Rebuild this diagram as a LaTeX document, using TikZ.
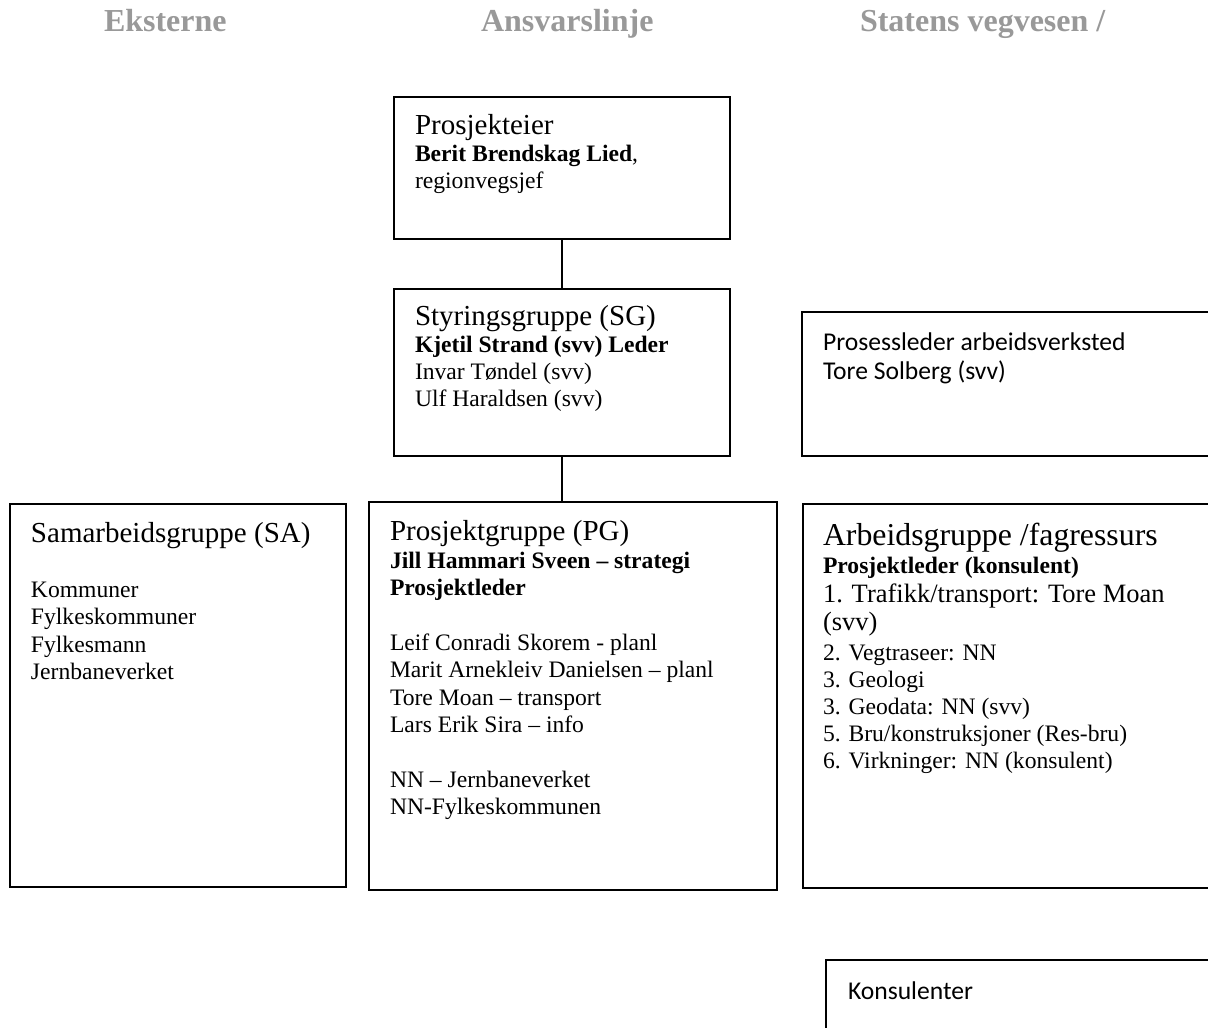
\documentclass[tikz,border=0pt]{standalone}
\usepackage{fontspec}
\setmainfont{Liberation Serif}
\newfontfamily\sansf{Carlito}
\definecolor{hdr}{RGB}{153,153,153}
\begin{document}
\begin{tikzpicture}[x=0.5pt,y=-0.5pt,
  box/.style={draw, line width=0.85pt, inner sep=0, rectangle},
  conn/.style={draw, line width=0.85pt},
  txt/.style={anchor=base west, inner sep=0, outer sep=0},
  hd/.style={txt, text=hdr, font=\fontsize{16}{19}\selectfont\bfseries},
  lg/.style={txt, font=\fontsize{14.5}{17}\selectfont},
  agt/.style={txt, font=\fontsize{15.9}{19}\selectfont},
  ag1/.style={txt, font=\fontsize{13.25}{16}\selectfont},
  sm/.style={txt, font=\fontsize{11.8}{14}\selectfont},
  smb/.style={txt, font=\fontsize{11.8}{14}\selectfont\bfseries},
  sf/.style={txt, font=\sansf\fontsize{12.8}{16}\selectfont}]
\useasboundingbox (0,0) rectangle (1208,1027);
\clip (0,0) rectangle (1208,1027);

% headers
\node[hd] (h1) at (104,32) {Eksterne};
\node[hd] (h2) at (481,32) {Ansvarslinje};
\node[hd] (h3) at (860,32) {Statens vegvesen /};

% boxes
\node[box, minimum width=168pt, minimum height=71pt] (PE) at (562,168) {};
\node[box, minimum width=168pt, minimum height=83.5pt] (SG) at (562,372.5) {};
\node[box, minimum width=204pt, minimum height=194pt] (PG) at (573,696) {};
\node[box, minimum width=168pt, minimum height=191.5pt] (SA) at (178,695.5) {};
\node[box, minimum width=223.5pt, minimum height=192pt] (AG) at (1026.5,696) {};
\node[box, minimum width=224pt, minimum height=72pt] (PL) at (1026,384) {};
\node[box, minimum width=212pt, minimum height=70pt] (KO) at (1038,1030) {};

% connectors
\draw[conn] (PE.south) -- (SG.north);
\draw[conn] (SG.south) -- (SG.south |- PG.north);

% Prosjekteier
\node[lg] (pe1) at (415,135) {Prosjekteier};
\node[sm] (pe2) at (415,162) {\textbf{Berit Brendskag Lied},};
\node[sm] (pe3) at (415,189) {regionvegsjef};

% Styringsgruppe
\node[lg] (sg1) at (415,325) {Styringsgruppe (SG)};
\node[smb] (sg2) at (415,352) {Kjetil Strand (svv) Leder};
\node[sm] (sg3) at (415,379) {Invar Tøndel (svv)};
\node[sm] (sg4) at (415,406) {Ulf Haraldsen (svv)};

% Prosjektgruppe
\node[lg] (pg1) at (390,540) {Prosjektgruppe (PG)};
\node[smb] (pg2) at (390,568) {Jill Hammari Sveen – strategi};
\node[smb] (pg3) at (390,595) {Prosjektleder};
\node[sm] (pg4) at (390,650) {Leif Conradi Skorem - planl};
\node[sm] (pg5) at (390,677) {Marit Arnekleiv Danielsen – planl};
\node[sm] (pg6) at (390,705) {Tore Moan – transport};
\node[sm] (pg7) at (390,732) {Lars Erik Sira – info};
\node[sm] (pg8) at (390,787) {NN – Jernbaneverket};
\node[sm] (pg9) at (390,814) {NN-Fylkeskommunen};

% Samarbeidsgruppe
\node[lg] (sa1) at (31,542) {Samarbeidsgruppe (SA)};
\node[sm] (sa2) at (31,597) {Kommuner};
\node[sm] (sa3) at (31,624) {Fylkeskommuner};
\node[sm] (sa4) at (31,652) {Fylkesmann};
\node[sm] (sa5) at (31,679) {Jernbaneverket};

% Arbeidsgruppe
\node[agt] (ag1) at (823,545) {Arbeidsgruppe /fagressurs};
\node[smb] (ag2) at (823,573) {Prosjektleder (konsulent)};
\node[ag1] (ag3) at (823,602) {1. Trafikk/transport: Tore Moan};
\node[ag1] (ag4) at (823,630) {(svv)};
\node[sm] (ag5) at (823,660) {2. Vegtraseer: NN};
\node[sm] (ag6) at (823,687) {3. Geologi};
\node[sm] (ag7) at (823,714) {3. Geodata: NN (svv)};
\node[sm] (ag8) at (823,741) {5. Bru/konstruksjoner (Res-bru)};
\node[sm] (ag9) at (823,768) {6. Virkninger: NN (konsulent)};

% Prosessleder
\node[sf] (pl1) at (823,350) {Prosessleder arbeidsverksted};
\node[sf] (pl2) at (823,379) {Tore Solberg (svv)};

% Konsulenter
\node[sf] (ko1) at (848,999) {Konsulenter};
\end{tikzpicture}
\end{document}
